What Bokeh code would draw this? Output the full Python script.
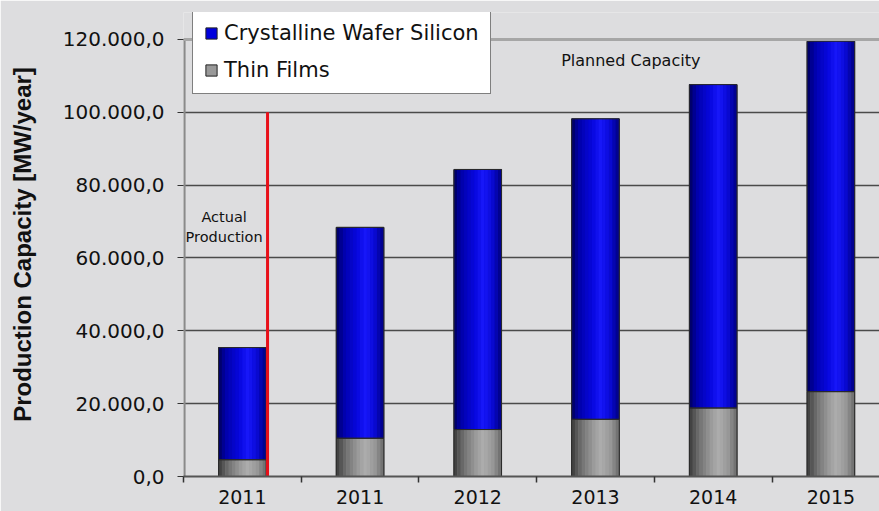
import numpy as np
from bokeh.plotting import figure
from bokeh.models import FixedTicker, Span, Legend, LegendItem, Label
from bokeh.embed import file_html
from bokeh.resources import INLINE

# ---------------- data ----------------
years = ["2011", "2011", "2012", "2013", "2014", "2015"]
thin_films = [4600, 10500, 12900, 15700, 18800, 23300]
crystalline = [30800, 57900, 71400, 82500, 88800, 96200]
series_names = ["Crystalline Wafer Silicon", "Thin Films"]
y_ticks = [0, 20000, 40000, 60000, 80000, 100000, 120000]
y_tick_labels = ["0,0", "20.000,0", "40.000,0", "60.000,0", "80.000,0", "100.000,0", "120.000,0"]
y_title = "Production Capacity [MW/year]"
note_actual = "Actual\nProduction"
note_planned = "Planned Capacity"
divider_top = 100000

# ---------------- geometry / style ----------------
x = np.arange(len(years), dtype=float)
bar_w = 0.404
thin = np.array(thin_films, dtype=float)
cryst = np.array(crystalline, dtype=float)
total = thin + cryst
y_top = y_ticks[-1]

p = figure(width=879, height=511, x_range=(-0.5, 5.413), y_range=(0, 127400),
           output_backend="svg", toolbar_location=None,
           min_border_left=183, min_border_right=0, min_border_top=12,
           min_border_bottom=35)
p.background_fill_color = "#dddddf"
p.border_fill_color = "#dddddf"
p.outline_line_color = None

# grid
p.xgrid.grid_line_color = None
p.ygrid.grid_line_color = "#4a4a4a"
p.ygrid.grid_line_width = 1.3
p.ygrid.ticker = FixedTicker(ticks=y_ticks)

# top border line of the plot area
p.add_layout(Span(location=y_top, dimension="width", line_color="#a6a6a6", line_width=3))

# base bars (used for legend)
r_thin = p.vbar(x=x, width=bar_w, bottom=0, top=thin, fill_color="#999999",
                line_color="#222222", line_width=1)
r_cryst = p.vbar(x=x, width=bar_w, bottom=thin, top=total, fill_color="#0000dd",
                 line_color="#222222", line_width=1)

# cylinder-like shading strips
n = 14
pos = (np.arange(n) + 0.5) / n
def profile(stops, cols):
    rgb = np.array([[int(c[i:i + 2], 16) for i in (1, 3, 5)] for c in cols], dtype=float)
    out = []
    for t in pos:
        v = [np.interp(t, stops, rgb[:, k]) for k in range(3)]
        out.append("#%02x%02x%02x" % tuple(int(round(a)) for a in v))
    return out

blue_cols = profile([0, 0.15, 0.45, 0.62, 0.8, 1.0],
                    ["#00005a", "#0000a8", "#0808e0", "#1818fa", "#0a0ad8", "#000080"])
gray_cols = profile([0, 0.2, 0.45, 0.62, 0.82, 1.0],
                    ["#3a3a3a", "#6e6e6e", "#999999", "#aeaeae", "#979797", "#6a6a6a"])

sx, sw, sb, st, sc = [], [], [], [], []
for i in range(len(x)):
    for k in range(n):
        cx = x[i] - bar_w / 2 + pos[k] * bar_w
        for b, t, cols in ((0.0, thin[i], gray_cols), (thin[i], total[i], blue_cols)):
            sx.append(cx); sw.append(bar_w / n * 1.08); sb.append(b); st.append(t); sc.append(cols[k])
p.vbar(x=sx, width=sw, bottom=sb, top=st, fill_color=sc, line_color=None)

# outlines on top
p.vbar(x=x, width=bar_w, bottom=0, top=thin, fill_alpha=0, line_color="#2a2a2a", line_width=1)
p.vbar(x=x, width=bar_w, bottom=thin, top=total, fill_alpha=0, line_color="#2a2a2a", line_width=1)

# y axis line only up to the top tick
p.segment(x0=[-0.5 + 0.007], y0=[0], x1=[-0.5 + 0.007], y1=[y_top],
          line_color="#8a8a8a", line_width=2.5)

# red divider between actual and planned
p.segment(x0=[x[0] + bar_w / 2 + 0.012], y0=[0], x1=[x[0] + bar_w / 2 + 0.012], y1=[divider_top],
          line_color="#e8101a", line_width=3)

# notes
p.add_layout(Label(x=x[0] - 0.155, y=68600, text=note_actual, text_align="center",
                   text_baseline="middle", text_font="DejaVu Sans", text_font_size="14.5px",
                   text_color="#111111", text_line_height=1.25))
p.add_layout(Label(x=x[3] + 0.30, y=114300, text=note_planned, text_align="center",
                   text_baseline="middle", text_font="DejaVu Sans", text_font_size="16px",
                   text_color="#111111"))

# axes
p.yaxis.ticker = FixedTicker(ticks=y_ticks)
p.yaxis.major_label_overrides = {t: l for t, l in zip(y_ticks, y_tick_labels)}
p.yaxis.major_label_text_font = "DejaVu Sans"
p.yaxis.major_label_text_font_size = "20px"
p.yaxis.major_label_text_color = "#111111"
p.yaxis.major_label_standoff = 13
p.yaxis.major_tick_out = 6
p.yaxis.major_tick_in = 0
p.yaxis.major_tick_line_color = "#333333"
p.yaxis.minor_tick_line_color = None
p.yaxis.axis_line_color = None
p.yaxis.axis_label = y_title
p.yaxis.axis_label_text_font = "Liberation Sans"
p.yaxis.axis_label_text_font_style = "bold"
p.yaxis.axis_label_text_font_size = "24px"
p.yaxis.axis_label_text_color = "#111111"
p.yaxis.axis_label_standoff = 24

p.xaxis.ticker = FixedTicker(ticks=list(x), minor_ticks=list(np.append(x - 0.5, x[-1] + 0.5)))
p.xaxis.major_label_overrides = {float(v): lab for v, lab in zip(x, years)}
p.xaxis.major_label_text_font = "DejaVu Sans"
p.xaxis.major_label_text_font_size = "19px"
p.xaxis.major_label_text_color = "#111111"
p.xaxis.major_label_standoff = 7
p.xaxis.major_tick_out = 6
p.xaxis.major_tick_in = 0
p.xaxis.major_tick_line_color = None
p.xaxis.minor_tick_out = 6
p.xaxis.minor_tick_in = 0
p.xaxis.minor_tick_line_color = "#333333"
p.xaxis.minor_tick_line_width = 1.5
p.xaxis.axis_line_color = "#555555"
p.xaxis.axis_line_width = 2

# legend
legend = Legend(items=[LegendItem(label=series_names[0], renderers=[r_cryst]),
                       LegendItem(label=series_names[1], renderers=[r_thin])],
                location=(9, 382), orientation="vertical")
legend.border_line_color = "#000000"
legend.border_line_width = 1
legend.background_fill_color = "#ffffff"
legend.background_fill_alpha = 1.0
legend.label_text_font = "DejaVu Sans"
legend.label_text_font_size = "21px"
legend.label_text_color = "#111111"
legend.glyph_width = 14
legend.glyph_height = 14
legend.label_standoff = 6
legend.padding = 11
legend.spacing = 13
legend.label_height = 24
legend.margin = 0
p.add_layout(legend)

open("out.html", "w").write(file_html(p, INLINE))
